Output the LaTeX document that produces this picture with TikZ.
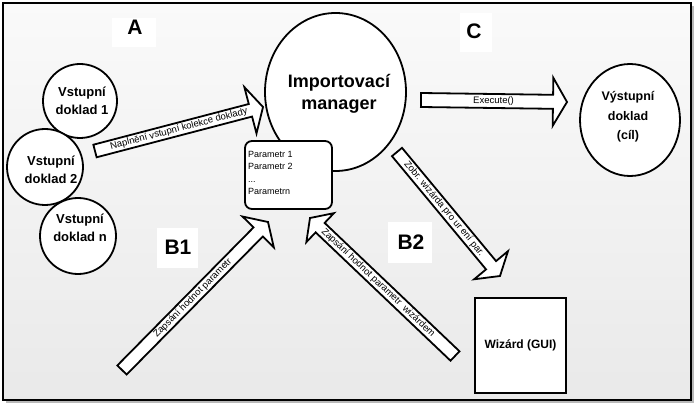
\documentclass[tikz,border=0pt]{standalone}
\usepackage{fontspec}
\setmainfont{Liberation Sans}
\usetikzlibrary{calc,shapes.geometric}
\newcommand{\blockarr}[8]{%
  \coordinate (#1-b) at ($(#2)!#5!(#1)$);
  \draw[blk] ($(#1)!#3!90:(#2)$) -- ($(#1-b)!#3!90:(#2)$) -- ($(#1-b)!#4!90:(#2)$) -- (#2)
    -- ($(#1-b)!#4!-90:(#2)$) -- ($(#1-b)!#3!-90:(#2)$) -- ($(#1)!#3!-90:(#2)$) -- cycle;
  \path (#1) -- (#1-b) node[pos=#8, sloped, alabel] (#6) {#7};
}
\begin{document}
\begin{tikzpicture}[x=1pt,y=-1pt,
  blk/.style={draw=black, line width=1.8pt, fill=white, line join=miter},
  circ/.style={draw=black, line width=1.8pt, fill=white, inner sep=0pt},
  ctext/.style={font=\fontsize{13}{18}\selectfont\bfseries, align=center, inner sep=0pt},
  alabel/.style={font=\fontsize{9.5}{10}\selectfont, inner sep=0pt},
  big/.style={font=\fontsize{21}{24}\selectfont\bfseries, inner sep=0pt},
  lbox/.style={fill=white},
]
\useasboundingbox (0,0) rectangle (696,406);
% frame, shadow, background
\fill[gray!55] (6,6) rectangle (694,403);
\shade[top color=gray!4, bottom color=gray!17] (3,3) rectangle (691,400);
\draw[line width=1.2pt] (3,3) rectangle (691,400);

% letter boxes
\fill[lbox] (112,18) rectangle (156,47);
\node[big] (lA) at (135,27) {A};
\fill[lbox] (460,13) rectangle (492,52);
\node[big] (lC) at (474,31) {C};
\fill[lbox] (157,228) rectangle (198,268);
\node[big] (lB1) at (178,247) {B1};
\fill[lbox] (388,222) rectangle (432,263);
\node[big] (lB2) at (411,242) {B2};

% input documents
\node[circle, circ, minimum size=74pt] (in1) at (80,101) {};
\node[ctext] (in1t) at (82,101) {Vstupní\\doklad 1};
\node[circle, circ, minimum size=76pt] (in2) at (45,167) {};
\node[ctext] (in2t) at (51,170) {Vstupní\\doklad 2};
\node[circle, circ, minimum size=76pt] (inn) at (78,236) {};
\node[ctext] (innt) at (80,228) {Vstupní\\doklad n};

% arrow A
\coordinate (n0) at (95,151);
\coordinate (n1) at (263,107);
\blockarr{n0}{n1}{6.5pt}{24pt}{13pt}{nlab}{Naplnění vstupní kolekce doklady}{0.54}

% manager
\node[ellipse, circ, minimum width=141pt, minimum height=158pt] (mgr) at (335.5,92) {};
\node[font=\fontsize{18}{22}\selectfont\bfseries, align=center, inner sep=0pt] (mgrt) at (339,94) {Importovací\\manager};

% parameter box
\node[draw, line width=1.8pt, fill=white, rounded corners=7pt, minimum width=87pt, minimum height=68pt] (par) at (288.5,175) {};
\node[anchor=north west, align=left, inner sep=0pt, font=\fontsize{9}{12.5}\selectfont] (part) at (248,151) {Parametr 1\\Parametr 2\\...\\Parametrn};

% arrow C
\coordinate (e0) at (421,100);
\coordinate (e1) at (567,102);
\blockarr{e0}{e1}{7pt}{24pt}{14pt}{elab}{Execute()}{0.55}

% output
\node[ellipse, circ, minimum width=100pt, minimum height=112pt] (out) at (630,120) {};
\node[font=\fontsize{12.5}{19.5}\selectfont\bfseries, align=center, inner sep=0pt] (outt) at (628,117) {Výstupní\\doklad\\(cíl)};

% wizard arrow
\coordinate (w0) at (397,152);
\coordinate (w1) at (500,276);
\blockarr{w0}{w1}{6.5pt}{22pt}{14pt}{wlab}{Zobr. wizárda pro ur ení par.}{0.5}

% B1 arrow
\coordinate (b0) at (122,370);
\coordinate (b1) at (268,222);
\blockarr{b0}{b1}{6.5pt}{22pt}{14pt}{b1lab}{Zapsání hodnot parametr}{0.52}

% B2 arrow
\coordinate (c0) at (455,356);
\coordinate (c1) at (310,218);
\blockarr{c0}{c1}{6.5pt}{20pt}{14pt}{b2lab}{Zapsání hodnot parametr~ wizárdem}{0.57}

% wizard
\node[draw, line width=1.8pt, fill=white, minimum width=91pt, minimum height=95pt, font=\fontsize{12}{14}\selectfont\bfseries] (wiz) at (520.5,345.5) {Wizárd (GUI)};
\end{tikzpicture}
\end{document}
